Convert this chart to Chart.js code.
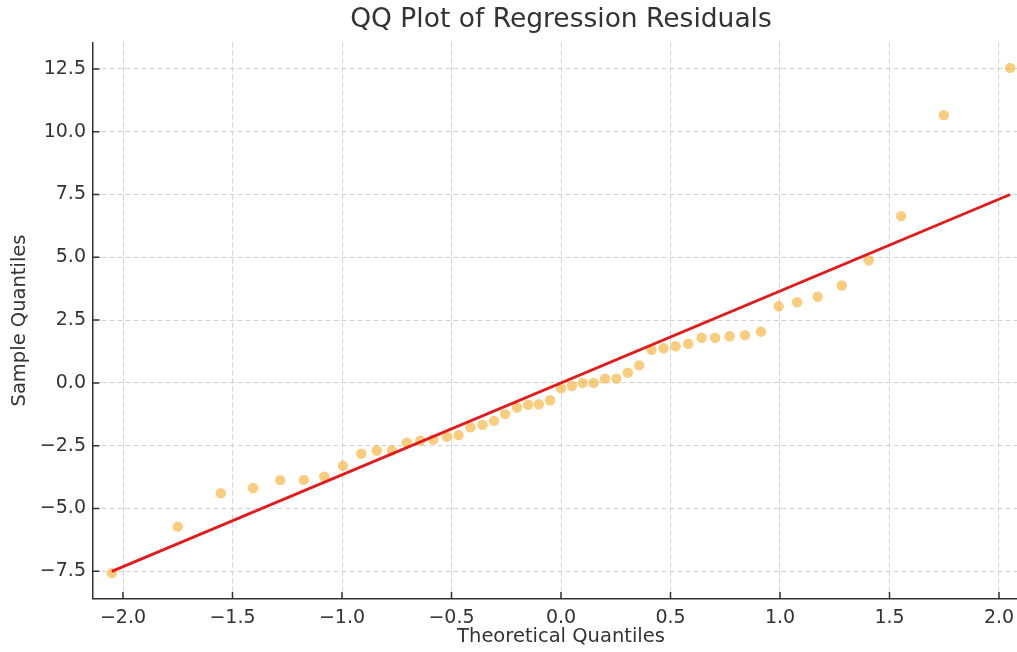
<!DOCTYPE html>
<html>
<head>
<meta charset="utf-8">
<script src="https://cdn.jsdelivr.net/npm/chart.js@4"></script>
<style>
  html, body { margin: 0; padding: 0; background: #fff; overflow: hidden; }
  canvas { display: block; }
</style>
</head>
<body>
<canvas id="qq" width="1029" height="652"></canvas>
<script>
// Data
const theoreticalQuantiles = [
    -2.051, -1.750, -1.553, -1.406, -1.282, -1.174, -1.081, -0.996, -0.912, -0.841,
    -0.772, -0.704, -0.643, -0.583, -0.521, -0.468, -0.413, -0.358, -0.306, -0.255,
    -0.201, -0.150, -0.101, -0.050, 0.000, 0.050, 0.099, 0.149, 0.201, 0.253,
    0.305, 0.357, 0.413, 0.468, 0.523, 0.581, 0.642, 0.704, 0.770, 0.840,
    0.913, 0.994, 1.078, 1.172, 1.282, 1.405, 1.553, 1.748, 2.051
];
const sampleQuantiles = [
    -7.57, -5.72, -4.39, -4.18, -3.87, -3.86, -3.73, -3.29, -2.82, -2.69,
    -2.69, -2.38, -2.30, -2.25, -2.14, -2.08, -1.77, -1.67, -1.51, -1.24,
    -0.98, -0.87, -0.85, -0.69, -0.21, -0.12, 0.00, 0.00, 0.17, 0.17,
    0.41, 0.70, 1.32, 1.38, 1.46, 1.56, 1.80, 1.80, 1.86, 1.90,
    2.04, 3.05, 3.21, 3.43, 3.88, 4.88, 6.64, 10.66, 12.54
];
const fitLineX = [-2.051, 2.051];
const fitLineY = [-7.5, 7.5];

const xRange = [-2.137, 2.137];
const yRange = [-8.58, 13.55];
const xTickStep = 0.5;
const yTickStep = 2.5;

const chartTitle = 'QQ Plot of Regression Residuals';
const xLabel = 'Theoretical Quantiles';
const yLabel = 'Sample Quantiles';

const textColor = '#333333';
const fontFamily = '"DejaVu Sans", sans-serif';

const fmt = v => v.toFixed(1).replace('-', '\u2212');

// title centred over the axes, like matplotlib does
const titlePlugin = {
    id: 'axesTitle',
    afterDraw(chart) {
        const { ctx, chartArea } = chart;
        ctx.save();
        ctx.font = '26.5px ' + fontFamily;
        ctx.fillStyle = textColor;
        ctx.textAlign = 'center';
        ctx.textBaseline = 'middle';
        ctx.fillText(chartTitle, (chartArea.left + chartArea.right) / 2, 20);
        ctx.restore();
    }
};

// matplotlib style ticks pointing into the axes
const inwardTicks = {
    id: 'inwardTicks',
    afterDraw(chart) {
        const { ctx, chartArea, scales } = chart;
        const len = 6.5;
        ctx.save();
        ctx.strokeStyle = textColor;
        ctx.lineWidth = 1.5;
        ctx.beginPath();
        scales.x.ticks.forEach(t => {
            const px = scales.x.getPixelForValue(t.value);
            ctx.moveTo(px, chartArea.bottom);
            ctx.lineTo(px, chartArea.bottom - len);
        });
        scales.y.ticks.forEach(t => {
            const py = scales.y.getPixelForValue(t.value);
            ctx.moveTo(chartArea.left, py);
            ctx.lineTo(chartArea.left + len, py);
        });
        ctx.stroke();
        ctx.restore();
    }
};

const gridOpts = {
    color: '#d2d2d2',
    lineWidth: 1,
    drawTicks: false
};

new Chart(document.getElementById('qq'), {
    data: {
        datasets: [
            {
                type: 'line',
                label: 'fit',
                data: fitLineX.map((x, i) => ({ x, y: fitLineY[i] })),
                borderColor: '#e31a1c',
                borderWidth: 2.8,
                pointRadius: 0,
                fill: false,
                order: 0
            },
            {
                type: 'scatter',
                label: 'residuals',
                data: theoreticalQuantiles.map((x, i) => ({ x, y: sampleQuantiles[i] })),
                backgroundColor: 'rgba(247, 170, 40, 0.6)',
                borderWidth: 0,
                pointRadius: 5.2,
                order: 1
            }
        ]
    },
    options: {
        responsive: false,
        animation: false,
        devicePixelRatio: 1,
        layout: { autoPadding: false, padding: { top: 42.5, right: 0, bottom: 0, left: 0 } },
        plugins: {
            legend: { display: false },
            title: { display: false },
            tooltip: { enabled: false }
        },
        scales: {
            x: {
                type: 'linear',
                position: 'bottom',
                min: xRange[0], max: xRange[1],
                afterFit(scale) {
                    scale.height = 53.5;
                    scale.paddingLeft = 0;
                    scale.paddingRight = 0;
                },
                grid: { ...gridOpts },
                border: { display: true, color: textColor, width: 1.5, dash: [5, 3] },
                ticks: {
                    stepSize: xTickStep,
                    includeBounds: false,
                    padding: 8,
                    color: textColor,
                    font: { family: fontFamily, size: 19 },
                    maxRotation: 0,
                    autoSkip: false,
                    callback: v => fmt(v)
                },
                title: {
                    display: true,
                    text: xLabel,
                    color: textColor,
                    font: { family: fontFamily, size: 19.5 },
                    padding: { top: 0, bottom: 3 }
                }
            },
            y: {
                type: 'linear',
                position: 'left',
                min: yRange[0], max: yRange[1],
                afterFit(scale) { scale.width = 93; },
                grid: { ...gridOpts },
                border: { display: true, color: textColor, width: 1.5, dash: [5, 3] },
                ticks: {
                    stepSize: yTickStep,
                    includeBounds: false,
                    padding: 7,
                    color: textColor,
                    font: { family: fontFamily, size: 19 },
                    autoSkip: false,
                    callback: v => fmt(v)
                },
                title: {
                    display: true,
                    text: yLabel,
                    color: textColor,
                    font: { family: fontFamily, size: 19.5 },
                    padding: { top: 8, bottom: 0 }
                }
            }
        }
    },
    plugins: [titlePlugin, inwardTicks]
});
</script>
</body>
</html>
